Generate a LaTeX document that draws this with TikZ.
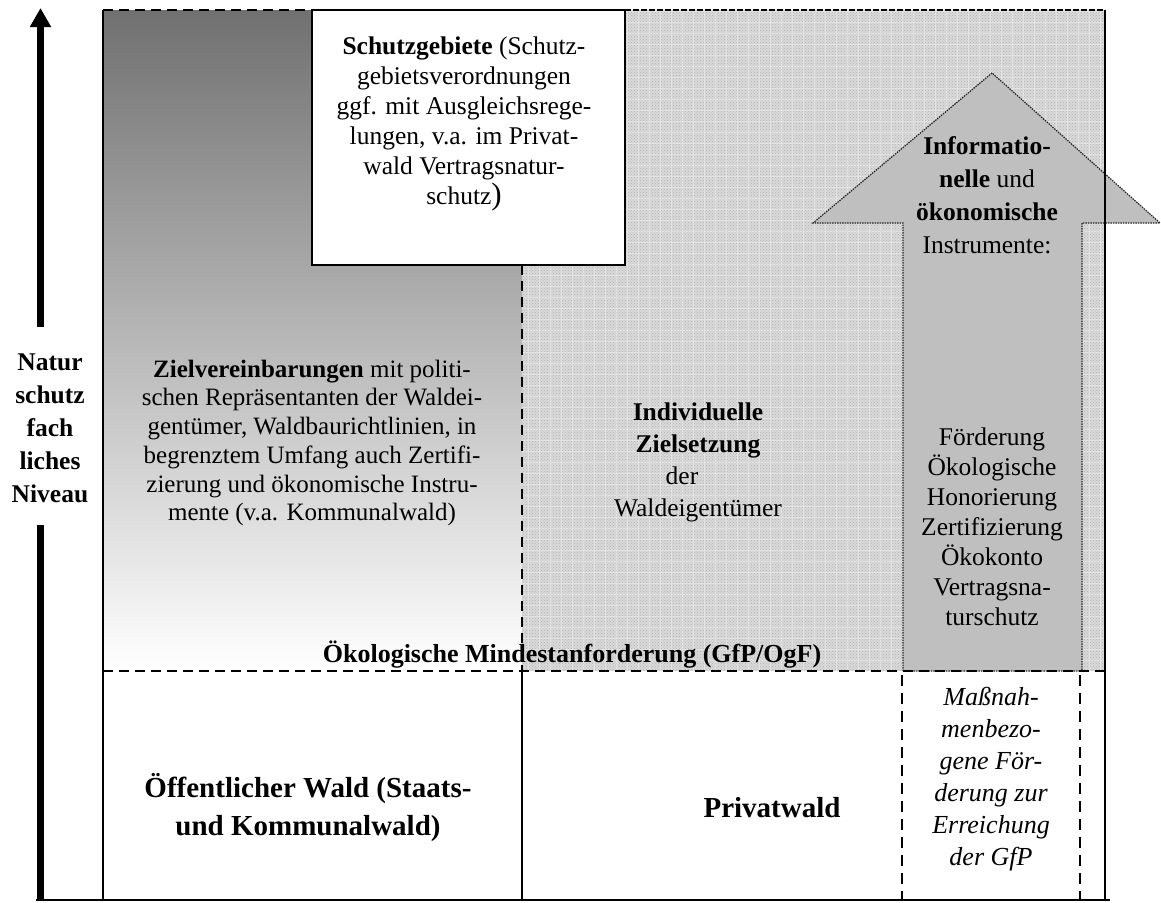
\documentclass[tikz,border=0pt]{standalone}
\usepackage{fontspec}
\setmainfont{Liberation Serif}
\usetikzlibrary{patterns,arrows.meta}
\begin{document}
\begin{tikzpicture}[x=1pt,y=-1pt,
  body/.style={font=\fontsize{25.5}{30}\selectfont, align=center, inner sep=0pt},
  label/.style={font=\fontsize{25.5}{33}\selectfont\bfseries, align=center, inner sep=0pt},
  big/.style={font=\fontsize{29}{38}\selectfont\bfseries, align=center, inner sep=0pt},
  note/.style={font=\fontsize{26}{32}\selectfont\itshape, align=center, inner sep=0pt},
  dashline/.style={line width=2pt, dash pattern=on 10pt off 6pt},
  thinframe/.style={line width=1.6pt},
  frame/.style={line width=2.2pt},
  blockarrow/.style={fill=black!25, draw=black!85, line width=1.2pt, dash pattern=on 1.5pt off 1pt},
]
\useasboundingbox (0,0) rectangle (1161,902);

% upper left area: shading from dark grey to white
\shade[top color=black!56, bottom color=white] (103,10) rectangle (522,671);
% upper right area: speckled grey texture
\fill[black!15] (522,10) rectangle (1105,671);
\fill[pattern=crosshatch dots, pattern color=black!30] (522,10) rectangle (1105,671);
\draw[white, opacity=.35, line width=.7pt, step=11pt] (522,10) grid (1105,671);

% block arrow of the informational and economic instruments
\draw[blockarrow] (903,671) -- (903,223) -- (813,223) -- (992,73) -- (1160,223)
  -- (1082,223) -- (1082,671) -- cycle;

% protected areas box
\draw[frame, fill=white] (312,10) rectangle (625,265);

% outer frame and dividers
\draw[dashline, line width=1.8pt] (103,10) -- (312,10);
\draw[line width=1.6pt, dash pattern=on 6pt off 2pt] (625,10) -- (1105,10);
\draw[thinframe] (103,10) -- (103,900);
\draw[frame] (1105,10) -- (1105,901);
\draw[dashline] (522,265) -- (522,671);
\draw[frame] (522,671) -- (522,900);
\draw[dashline] (103,671) -- (1105,671);
\draw[dashline, dash pattern=on 11pt off 7pt] (902,675) -- (902,900);
\draw[dashline, dash pattern=on 11pt off 7pt] (1080,675) -- (1080,900);
\draw[frame] (36,900) -- (1110,900);

% vertical axis
\node[label] (niveau) at (50,428) {Natur\\schutz\\fach\\liches\\Niveau};
\coordinate (axbot) at (40.5,901);
\coordinate (axlow) at (40.5,525);
\coordinate (axhigh) at (40.5,327);
\coordinate (axtip) at (40.5,8);
\draw[line width=7pt] (axbot) -- (axlow);
\draw[line width=7pt, -{Triangle[width=20pt,length=19pt]}] (axhigh) -- (axtip);

% texts
\node[body] (schutz) at (464,124)
  {\textbf{Schutzgebiete} (Schutz-\\gebietsverordnungen\\ggf. mit Ausgleichsrege-\\lungen, v.a. im Privat-\\wald Vertragsnatur-\\schutz{\fontsize{31}{30}\selectfont)}};
\node[body, font=\fontsize{25}{28.7}\selectfont] (ziel) at (312,443)
  {\textbf{Zielvereinbarungen} mit politi-\\schen Repräsentanten der Waldei-\\gentümer, Waldbaurichtlinien, in\\begrenztem Umfang auch Zertifi-\\zierung und ökonomische Instru-\\mente (v.a. Kommunalwald)};
\node[body, font=\fontsize{25.5}{32}\selectfont] (indiv) at (698,462)
  {\textbf{Individuelle}\\\textbf{Zielsetzung}\\\hspace*{-32pt}der\\Waldeigentümer};
\node[body, font=\fontsize{25.5}{33}\selectfont] (instr) at (987,195)
  {\textbf{Informatio-}\\\textbf{nelle} und\\\textbf{ökonomische}\\Instrumente:};
\node[body] (foerd) at (992,527)
  {Förderung\\Ökologische\\Honorierung\\Zertifizierung\\Ökokonto\\Vertragsna-\\turschutz};
\node[body, font=\fontsize{26}{30}\selectfont\bfseries] (mindest) at (572,655)
  {Ökologische Mindestanforderung (GfP/OgF)};
\node[big] (oeff) at (308,808) {Öffentlicher Wald (Staats-\\und Kommunalwald)};
\node[big] (privat) at (772,808) {Privatwald};
\node[note] (massn) at (991,779)
  {Maßnah-\\menbezo-\\gene För-\\derung zur\\Erreichung\\der GfP};
\end{tikzpicture}
\end{document}
